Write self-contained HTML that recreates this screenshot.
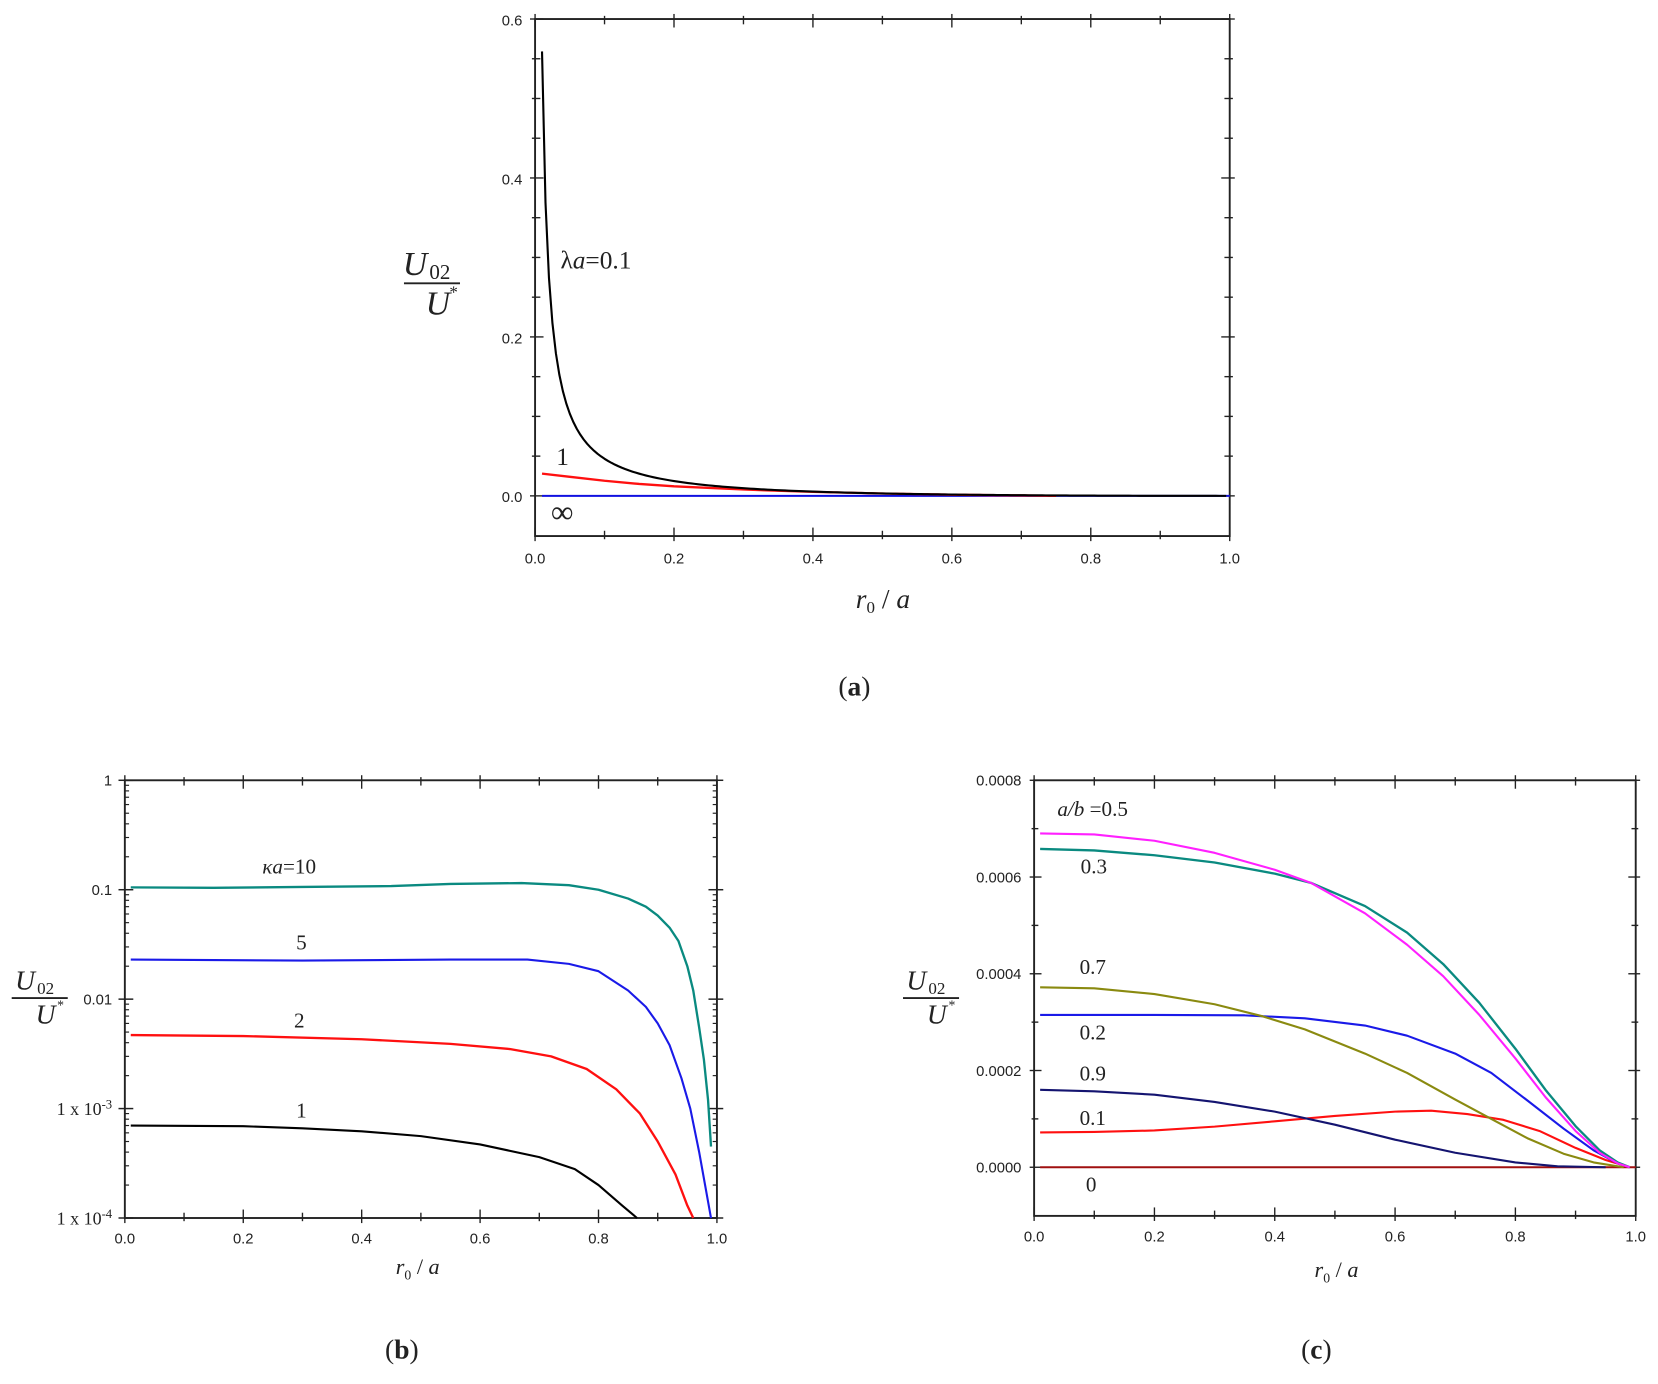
<!DOCTYPE html>
<html><head><meta charset="utf-8"><style>
html,body{margin:0;padding:0;background:#fff;}
svg{display:block;}
.t{font-family:"Liberation Sans",sans-serif;font-size:14px;fill:#222;}
.s{font-family:"Liberation Serif",serif;fill:#222;}
</style></head><body>
<svg id="g" width="1658" height="1384" viewBox="0 0 1568 1309" xmlns="http://www.w3.org/2000/svg">
<rect width="1568" height="1309" fill="#fff"/>
</svg>
<script>
const S=document.getElementById('g'),NS='http://www.w3.org/2000/svg';
function el(t,a,txt){const e=document.createElementNS(NS,t);for(const k in a)e.setAttribute(k,a[k]);if(txt!=null)e.textContent=txt;S.appendChild(e);return e;}
function line(x1,y1,x2,y2,c,w){el('line',{x1,y1,x2,y2,stroke:c||'#222','stroke-width':w||1.6});}
function poly(pts,c,w){el('polyline',{points:pts.map(p=>p.join(',')).join(' '),fill:'none',stroke:c,'stroke-width':w||2,'stroke-linejoin':'round'});}
function frac(x,y,fs){
 const f=fs||30;
 el('text',{x:x-4,y:y-8,class:'s','font-size':f,'font-style':'italic','text-anchor':'end'},'U');
 el('text',{x:x-2,y:y-4,class:'s','font-size':f*0.62},'02');
 line(x-26,y,x+27,y,'#222',1.8);
 el('text',{x:x+6,y:y+f*0.92,class:'s','font-size':f,'font-style':'italic','text-anchor':'middle'},'U');
 el('text',{x:x+17,y:y+f*0.42,class:'s','font-size':f*0.5},'*');
}
function xlabel(x,y,fs){
 const t=el('text',{x,y,class:'s','font-size':fs,'text-anchor':'middle'});
 t.innerHTML='<tspan font-style="italic">r</tspan><tspan font-size="'+(fs*0.62)+'" dy="5">0</tspan><tspan dy="-5"> / </tspan><tspan font-style="italic">a</tspan>';
}
function xaxis(L,R,T,B,fs){
 for(let i=0;i<=10;i++){const x=L+(R-L)*i/10,len=i%2?5:8;
  line(x,B-len,x,B+len*0.6,'#222',1.3);line(x,T-len*0.6,x,T+len,'#222',1.3);
  if(i%2==0)el('text',{x,y:B+fs+9,class:'t','font-size':fs,'text-anchor':'middle'},(i/10).toFixed(1));}
}
function frame(L,R,T,B){el('rect',{x:L,y:T,width:R-L,height:B-T,fill:'none',stroke:'#222','stroke-width':1.8});}

// ---------- panel a ----------
{const L=506,R=1163,T=18,B=507,X=v=>L+(R-L)*v,Y=v=>469-751.7*v;
 frame(L,R,T,B);xaxis(L,R,T,B,17);
 for(let i=0;i<=12;i++){const v=i*0.05,y=Y(v),len=i%4?5:8;if(y<T-1)continue;
  line(L-len*0.6,y,L+len,y,'#222',1.3);line(R-len,y,R+len*0.6,y,'#222',1.3);}
 for(let i=0;i<=3;i++)el('text',{x:L-12,y:Y(i*0.2)+6,class:'t','font-size':17,'text-anchor':'end'},(i*0.2).toFixed(1));
 const bk=[];for(let x=0.01;x<=1.0001;x+=0.005){bk.push([x,0.0057/x*Math.pow(1-x,1.9)]);}
 const rd=[[.01,.028],[.05,.024],[.1,.019],[.15,.015],[.2,.012],[.3,.008],[.4,.005],[.5,.003],[.6,.0015],[.7,.0005],[.75,0]];
 line(X(.01),Y(0),R,Y(0),'#1010e0',2);
 poly(rd.map(p=>[X(p[0]),Y(p[1])]),'#ff1010',2.2);
 poly(bk.map(p=>[X(p[0]),Y(p[1])]),'#000',2);
 const t=el('text',{x:530,y:254,class:'s','font-size':24});t.innerHTML='λ<tspan font-style="italic">a</tspan>=0.1';
 el('text',{x:526,y:440,class:'s','font-size':24},'1');
 el('text',{x:521,y:494,class:'s','font-size':30},'∞');
 frac(408,268,32);xlabel(835,575,26);
 const c=el('text',{x:808,y:658,class:'s','font-size':26,'text-anchor':'middle'});c.innerHTML='(<tspan font-weight="bold">a</tspan>)';
}
// ---------- panel b ----------
{const L=118,R=678,T=738,B=1152,X=v=>L+(R-L)*v,Y=v=>738-103.5*Math.log10(v);
 frame(L,R,T,B);xaxis(L,R,T,B,15);
 for(let d=0;d<4;d++)for(let m=2;m<=9;m++){const y=Y(Math.pow(10,-d-1)*m);line(L,y,L+4,y,'#222',1.1);line(R-4,y,R,y,'#222',1.1);}
 for(let d=0;d<=4;d++){const y=Y(Math.pow(10,-d));line(L-6,y,L+8,y,'#222',1.4);line(R-8,y,R+6,y,'#222',1.4);}
 const lab=['1','0.1','0.01'];
 for(let d=0;d<3;d++)el('text',{x:L-12,y:Y(Math.pow(10,-d))+5,class:'t','font-size':15,'text-anchor':'end'},lab[d]);
 for(const d of [3,4]){const t=el('text',{x:L-12,y:Y(Math.pow(10,-d))+6,class:'s','font-size':17,'text-anchor':'end'});t.innerHTML='1 x 10<tspan font-size="12" dy="-6">-'+d+'</tspan>';}
 const f=a=>a.map(p=>[X(p[0]),Y(p[1])]);
 poly(f([[.01,.105],[.15,.104],[.3,.106],[.45,.108],[.55,.113],[.67,.115],[.75,.11],[.8,.1],[.85,.083],[.88,.07],[.9,.058],[.92,.045],[.935,.034],[.95,.02],[.96,.012],[.97,.0055],[.978,.0028],[.985,.0012],[.99,.00045]]),'#0a8a80',2.2);
 poly(f([[.01,.023],[.3,.0225],[.55,.023],[.68,.023],[.75,.021],[.8,.018],[.85,.012],[.88,.0085],[.9,.006],[.92,.0038],[.94,.0019],[.955,.001],[.97,.0004],[.98,.0002],[.99,.0001]]),'#1a1ae8',2);
 poly(f([[.01,.0047],[.2,.0046],[.4,.0043],[.55,.0039],[.65,.0035],[.72,.003],[.78,.0023],[.83,.0015],[.87,.0009],[.9,.0005],[.93,.00025],[.95,.00013],[.96,.0001]]),'#ff1010',2.2);
 poly(f([[.01,.0007],[.2,.00069],[.3,.00066],[.4,.00062],[.5,.00056],[.6,.00047],[.7,.00036],[.76,.00028],[.8,.0002],[.84,.00013],[.865,.0001]]),'#000',2);
 const t=el('text',{x:248,y:826,class:'s','font-size':20});t.innerHTML='<tspan font-style="italic">κa</tspan>=10';
 el('text',{x:280,y:898,class:'s','font-size':20},'5');
 el('text',{x:278,y:972,class:'s','font-size':20},'2');
 el('text',{x:280,y:1057,class:'s','font-size':20},'1');
 frac(37,944,26);xlabel(395,1205,21);
 const c=el('text',{x:380,y:1285,class:'s','font-size':26,'text-anchor':'middle'});c.innerHTML='(<tspan font-weight="bold">b</tspan>)';
}
// ---------- panel c ----------
{const L=978,R=1547,T=738,B=1150,X=v=>L+(R-L)*v,Y=v=>1104-457500*v;
 frame(L,R,T,B);xaxis(L,R,T,B,15);
 for(let i=1;i<=9;i++){const v=(i-1)*0.0001,y=Y(v),len=(i-1)%2?4:7;
  line(L-len*0.6,y,L+len,y,'#222',1.3);line(R-len,y,R+len*0.6,y,'#222',1.3);}
 for(let i=0;i<=4;i++)el('text',{x:L-12,y:Y(i*0.0002)+5,class:'t','font-size':15,'text-anchor':'end'},(i*0.0002).toFixed(4));
 const f=a=>a.map(p=>[X(p[0]),Y(p[1]*1e-4)]);
 line(X(.01),Y(0),R,Y(0),'#a01010',2);
 poly(f([[.01,.72],[.1,.73],[.2,.76],[.3,.84],[.4,.95],[.5,1.06],[.6,1.15],[.66,1.17],[.72,1.1],[.78,.98],[.84,.75],[.9,.4],[.95,.15],[.99,0]]),'#ff1010',2);
 poly(f([[.01,1.6],[.1,1.57],[.2,1.5],[.3,1.35],[.4,1.15],[.5,.88],[.6,.57],[.7,.3],[.8,.1],[.87,.02],[.95,0]]),'#141470',2);
 poly(f([[.01,3.15],[.2,3.15],[.35,3.14],[.45,3.08],[.55,2.93],[.62,2.72],[.7,2.35],[.76,1.95],[.82,1.38],[.88,.8],[.93,.35],[.97,.08],[.99,0]]),'#1a1ae8',2);
 poly(f([[.01,3.72],[.1,3.7],[.2,3.58],[.3,3.37],[.38,3.12],[.45,2.85],[.55,2.35],[.62,1.95],[.7,1.4],[.76,1.0],[.82,.6],[.88,.28],[.93,.1],[.98,0]]),'#8a8a10',2);
 poly(f([[.01,6.58],[.1,6.55],[.2,6.45],[.3,6.3],[.4,6.07],[.46,5.88],[.55,5.4],[.62,4.85],[.68,4.2],[.74,3.4],[.8,2.45],[.85,1.6],[.9,.85],[.94,.35],[.97,.1],[.99,0]]),'#0a8a80',2.2);
 poly(f([[.01,6.9],[.1,6.88],[.2,6.75],[.3,6.5],[.4,6.15],[.46,5.88],[.55,5.25],[.62,4.6],[.68,3.95],[.74,3.15],[.8,2.25],[.85,1.45],[.9,.75],[.94,.3],[.97,.08],[.99,0]]),'#ff20ff',2);
 const t=el('text',{x:1000,y:772,class:'s','font-size':20});t.innerHTML='<tspan font-style="italic">a/b</tspan> =0.5';
 const lb=[['0.3',1022,826],['0.7',1021,921],['0.2',1021,983],['0.9',1021,1022],['0.1',1021,1064],['0',1027,1127]];
 for(const l of lb)el('text',{x:l[1],y:l[2],class:'s','font-size':20},l[0]);
 frac(880,944,26);xlabel(1264,1208,21);
 const c=el('text',{x:1245,y:1285,class:'s','font-size':26,'text-anchor':'middle'});c.innerHTML='(<tspan font-weight="bold">c</tspan>)';
}
</script>
</body></html>
